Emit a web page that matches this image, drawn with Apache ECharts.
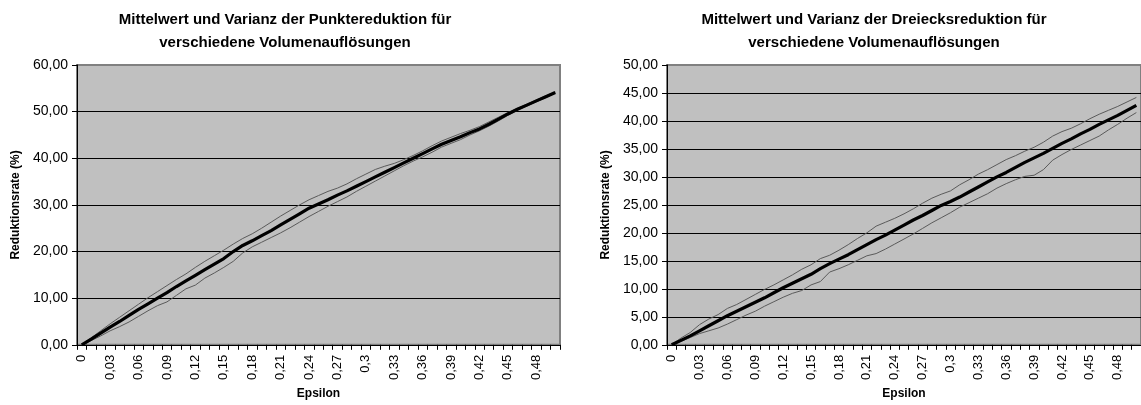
<!DOCTYPE html>
<html>
<head>
<meta charset="utf-8">
<style>
  html, body { margin: 0; padding: 0; background: #ffffff; }
  #chart { width: 1141px; height: 405px; }
</style>
<script src="https://cdn.jsdelivr.net/npm/echarts@6/dist/echarts.min.js"></script>
</head>
<body>
<div id="chart"></div>
<script>
// Epsilon values (category axis)
const epsilon = [0, 0.01, 0.02, 0.03, 0.04, 0.05, 0.06, 0.07, 0.08, 0.09,
  0.1, 0.11, 0.12, 0.13, 0.14, 0.15, 0.16, 0.17, 0.18, 0.19,
  0.2, 0.21, 0.22, 0.23, 0.24, 0.25, 0.26, 0.27, 0.28, 0.29,
  0.3, 0.31, 0.32, 0.33, 0.34, 0.35, 0.36, 0.37, 0.38, 0.39,
  0.4, 0.41, 0.42, 0.43, 0.44, 0.45, 0.46, 0.47, 0.48, 0.49, 0.5];

// Punktereduktion (%): mean and the upper / lower variance bounds
const punktMittel = [0, 1.2, 2.5, 3.8, 5.0, 6.3, 7.6, 8.8, 10.0, 11.2,
  12.5, 13.7, 14.9, 16.1, 17.3, 18.5, 20.0, 21.3, 22.3, 23.4,
  24.5, 25.7, 26.9, 28.1, 29.3, 30.2, 31.1, 32.1, 33.0, 34.0,
  35.0, 36.0, 37.0, 38.0, 39.0, 40.0, 41.0, 42.0, 43.0, 43.8,
  44.6, 45.5, 46.3, 47.3, 48.4, 49.5, 50.5, 51.4, 52.3, 53.2, 54.1];
const punktOben = [0, 1.5, 3.0, 4.5, 5.9, 7.3, 8.7, 10.1, 11.4, 12.7,
  14.0, 15.2, 16.6, 17.9, 19.1, 20.3, 21.6, 22.8, 23.8, 25.0,
  26.3, 27.6, 28.8, 30.0, 31.1, 32.0, 32.9, 33.6, 34.5, 35.6,
  36.6, 37.6, 38.3, 38.9, 39.7, 40.6, 41.6, 42.7, 43.7, 44.5,
  45.3, 46.0, 46.8, 47.8, 48.8, 49.8, 50.7, 51.6, 52.5, 53.4, 54.2];
const punktUnten = [0, 0.9, 1.9, 3.0, 3.9, 4.9, 6.1, 7.3, 8.4, 9.2,
  10.6, 12.0, 12.8, 14.3, 15.4, 16.6, 17.9, 19.7, 21.0, 22.0,
  23.0, 24.0, 25.1, 26.3, 27.5, 28.6, 29.7, 30.7, 31.7, 32.9,
  34.0, 35.1, 36.2, 37.3, 38.4, 39.4, 40.3, 41.3, 42.4, 43.2,
  44.0, 45.0, 45.9, 46.9, 48.0, 49.2, 50.3, 51.2, 52.1, 53.0, 54.0];

// Dreiecksreduktion (%): mean and the upper / lower variance bounds
const dreieckMittel = [0, 0.8, 1.6, 2.5, 3.4, 4.3, 5.2, 6.0, 6.8, 7.6,
  8.4, 9.3, 10.2, 11.0, 11.8, 12.6, 13.6, 14.5, 15.3, 16.1,
  17.0, 17.9, 18.8, 19.6, 20.5, 21.4, 22.3, 23.1, 24.0, 24.9,
  25.6, 26.4, 27.3, 28.2, 29.1, 30.0, 30.8, 31.7, 32.6, 33.4,
  34.2, 35.1, 36.0, 36.8, 37.7, 38.5, 39.4, 40.2, 41.0, 41.9, 42.8];
const dreieckOben = [0, 1.2, 2.2, 3.6, 4.6, 5.4, 6.5, 7.2, 8.1, 9.0,
  9.9, 10.7, 11.6, 12.5, 13.5, 14.3, 15.4, 16.0, 16.9, 17.9,
  19.0, 20.0, 21.2, 21.9, 22.6, 23.4, 24.3, 25.3, 26.2, 26.9,
  27.5, 28.6, 29.5, 30.5, 31.3, 32.2, 33.1, 33.8, 34.6, 35.3,
  36.2, 37.3, 38.1, 38.7, 39.5, 40.4, 41.2, 41.9, 42.6, 43.4, 44.2];
const dreieckUnten = [0, 0.6, 1.3, 2.0, 2.5, 3.0, 3.7, 4.5, 5.3, 6.0,
  6.9, 7.7, 8.5, 9.2, 9.7, 10.7, 11.3, 13.0, 13.6, 14.3,
  15.1, 15.9, 16.3, 17.1, 18.0, 18.9, 19.8, 20.8, 21.8, 22.7,
  23.6, 24.6, 25.4, 26.2, 27.0, 28.0, 28.8, 29.5, 30.1, 30.3,
  31.3, 33.0, 34.0, 34.9, 35.7, 36.5, 37.3, 38.4, 39.4, 40.5, 41.5];

// Chart texts
const titelPunkte = ['Mittelwert und Varianz der Punktereduktion für', 'verschiedene Volumenauflösungen'];
const titelDreiecke = ['Mittelwert und Varianz der Dreiecksreduktion für', 'verschiedene Volumenauflösungen'];
const xName = 'Epsilon';
const yName = 'Reduktionsrate (%)';

const FONT = '"Liberation Sans", Arial, Helvetica, sans-serif';
const komma = v => String(v).replace('.', ',');

function titleOpt(lines, center) {
  return {
    text: lines.join('\n'),
    left: center, top: 3, textAlign: 'center',
    textStyle: { fontFamily: FONT, fontSize: 15, fontWeight: 'bold', color: '#000', lineHeight: 23 }
  };
}

function xAxisOpt(gridIndex) {
  return {
    type: 'category', gridIndex, data: epsilon.map(String), boundaryGap: true,
    name: xName, nameLocation: 'middle', nameGap: 42,
    nameTextStyle: { fontFamily: FONT, fontSize: 12, fontWeight: 'bold', color: '#000' },
    axisLine: { show: true, lineStyle: { color: '#000', width: 1 } },
    axisTick: { show: true, interval: 0, length: 5, inside: false, lineStyle: { color: '#000' } },
    axisLabel: { interval: 2, rotate: 90, margin: 10, fontFamily: FONT, fontSize: 13, color: '#000',
      formatter: v => komma(v) },
    splitLine: { show: false }
  };
}

function yAxisOpt(gridIndex, max, step) {
  const n = Math.round(max / step) + 1;
  const colors = [];
  for (let i = 0; i < n; i++) colors.push(i === n - 1 ? '#808080' : '#000000');
  return {
    type: 'value', gridIndex, min: 0, max, interval: step,
    name: yName, nameLocation: 'middle', nameGap: 55, nameRotate: 90,
    nameTextStyle: { fontFamily: FONT, fontSize: 12, fontWeight: 'bold', color: '#000' },
    axisLine: { show: true, lineStyle: { color: '#000', width: 1 } },
    axisTick: { show: true, length: 5, inside: false, lineStyle: { color: '#000' } },
    axisLabel: { margin: 9, fontFamily: FONT, fontSize: 14, color: '#000',
      formatter: v => v.toFixed(2).replace('.', ',') },
    splitLine: { show: true, lineStyle: { color: colors, width: 1 } }
  };
}

function lineSeries(data, idx, thick) {
  return {
    type: 'line', xAxisIndex: idx, yAxisIndex: idx, data,
    symbol: 'none', smooth: false, silent: true, animation: false,
    lineStyle: thick ? { color: '#000000', width: 3.2 } : { color: '#5a5a5a', width: 1 },
    z: thick ? 3 : 2
  };
}

const chart = echarts.init(document.getElementById('chart'), null, { renderer: 'canvas' });
chart.setOption({
  animation: false,
  backgroundColor: '#ffffff',
  title: [titleOpt(titelPunkte, 280), titleOpt(titelDreiecke, 869)],
  grid: [
    { left: 77, top: 65, width: 483, height: 281, show: true, backgroundColor: '#c0c0c0',
      borderColor: '#808080', borderWidth: 2, containLabel: false },
    { left: 667, top: 65, width: 483, height: 281, show: true, backgroundColor: '#c0c0c0',
      borderColor: '#808080', borderWidth: 2, containLabel: false }
  ],
  xAxis: [xAxisOpt(0), xAxisOpt(1)],
  yAxis: [yAxisOpt(0, 60, 10), yAxisOpt(1, 50, 5)],
  series: [
    lineSeries(punktOben, 0, false),
    lineSeries(punktUnten, 0, false),
    lineSeries(punktMittel, 0, true),
    lineSeries(dreieckOben, 1, false),
    lineSeries(dreieckUnten, 1, false),
    lineSeries(dreieckMittel, 1, true)
  ]
});
</script>
</body>
</html>
